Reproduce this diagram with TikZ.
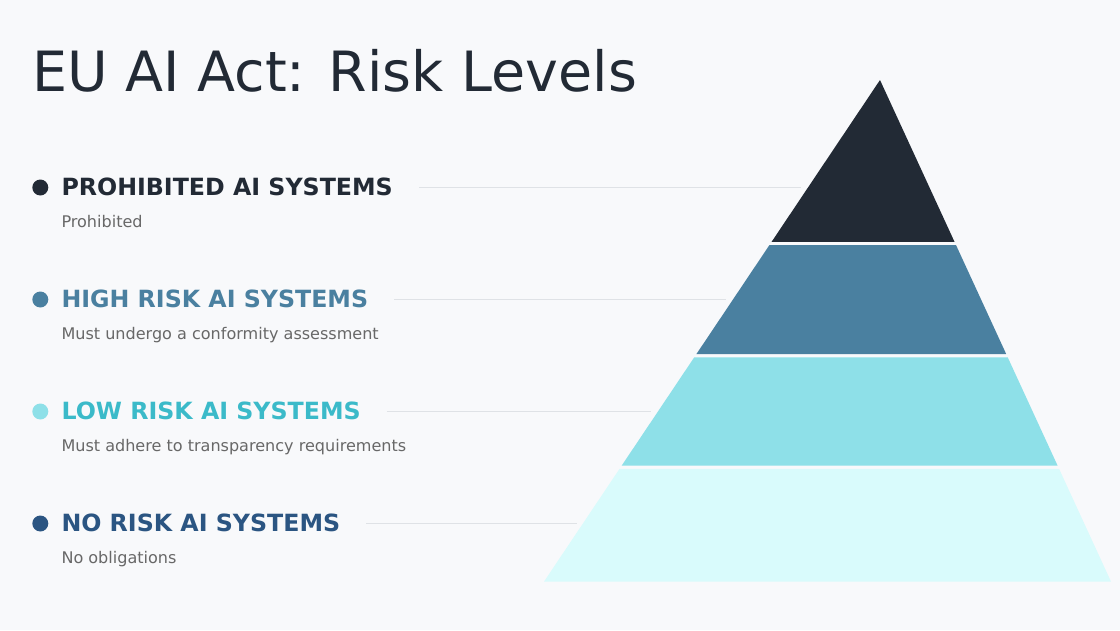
\documentclass[tikz,border=0pt]{standalone}
\usepackage{fontspec}
\setmainfont{DejaVu Sans}
\usetikzlibrary{calc}

\definecolor{bgcol}{HTML}{F8F9FB}
\definecolor{slate}{HTML}{222A35}
\definecolor{steel}{HTML}{4A80A0}
\definecolor{aqua}{HTML}{8EE0E8}
\definecolor{aquatext}{HTML}{3BBAC9}
\definecolor{ice}{HTML}{D9FBFC}
\definecolor{navy}{HTML}{2B5582}
\definecolor{subgray}{HTML}{686868}
\definecolor{guidegray}{HTML}{DFE2E6}

\begin{document}
\begin{tikzpicture}[x=1pt, y=-1pt,
  dot/.style={circle, inner sep=0pt, minimum size=16pt},
  head/.style={anchor=base west, inner sep=0pt, font=\fontsize{23.7}{28}\selectfont\bfseries},
  sub/.style={anchor=base west, inner sep=0pt, text=subgray, font=\fontsize{16.05}{19}\selectfont},
  guide/.style={draw=guidegray, line width=1pt}]
  \fill[bgcol] (0,0) rectangle (1120,630);
  \node[anchor=base west, inner sep=0pt, text=slate, font=\fontsize{55.5}{66}\selectfont] (title) at (32,91.7) {EU AI Act: Risk Levels};

  \coordinate (apex) at (880,80);
  \coordinate (bl) at (544,581.6);
  \coordinate (br) at (1111,581.6);
  \foreach \ta/\tb/\col in {0/0.3226/slate, 0.3291/0.5463/steel, 0.5528/0.7690/aqua, 0.7755/1/ice}
    \fill[\col] ($(apex)!\ta!(bl)$) -- ($(apex)!\tb!(bl)$) -- ($(apex)!\tb!(br)$) -- ($(apex)!\ta!(br)$) -- cycle;

  \node[dot, fill=slate] (d1) at (40.3,187.5) {};
  \node[head, text=slate] (h1) at (61.3,195.5) {PROHIBITED AI SYSTEMS};
  \node[sub] (s1) at (61.3,227) {Prohibited};
  \coordinate (e1) at (801,187.5);
  \draw[guide] ($(h1.base east)+(26,-8)$) -- (e1);

  \node[dot, fill=steel] (d2) at (40.3,299.5) {};
  \node[head, text=steel] (h2) at (61.3,307.5) {HIGH RISK AI SYSTEMS};
  \node[sub] (s2) at (61.3,339) {Must undergo a conformity assessment};
  \coordinate (e2) at (726,299.5);
  \draw[guide] ($(h2.base east)+(26,-8)$) -- (e2);

  \node[dot, fill=aqua] (d3) at (40.3,411.5) {};
  \node[head, text=aquatext] (h3) at (61.3,419.5) {LOW RISK AI SYSTEMS};
  \node[sub] (s3) at (61.3,451) {Must adhere to transparency requirements};
  \coordinate (e3) at (651,411.5);
  \draw[guide] ($(h3.base east)+(26,-8)$) -- (e3);

  \node[dot, fill=navy] (d4) at (40.3,523.5) {};
  \node[head, text=navy] (h4) at (61.3,531.5) {NO RISK AI SYSTEMS};
  \node[sub] (s4) at (61.3,563) {No obligations};
  \coordinate (e4) at (576.5,523.5);
  \draw[guide] ($(h4.base east)+(26,-8)$) -- (e4);
\end{tikzpicture}
\end{document}
